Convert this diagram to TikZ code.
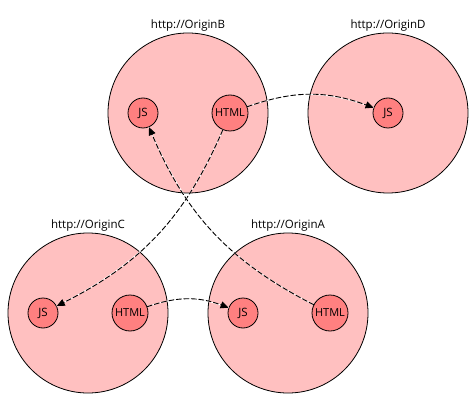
\documentclass[tikz,border=0pt]{standalone}
\usepackage{fontspec}
\setmainfont{Open Sans}
\usetikzlibrary{arrows.meta}

\definecolor{originfill}{RGB}{255,192,192}
\definecolor{scriptfill}{RGB}{255,128,128}

\begin{document}
\begin{tikzpicture}[
            x=1pt, y=1pt,
            line cap=round,
            origin circle/.style={circle, draw=black, line width=0.8pt, fill=originfill, minimum size=160pt, inner sep=0pt},
            origin label/.style={anchor=south, inner sep=1pt, font=\fontsize{11.5}{13}\selectfont},
            js dot/.style={circle, draw=black, line width=0.8pt, fill=scriptfill, minimum size=30pt, inner sep=0pt, font=\fontsize{11.5}{13}\selectfont},
            html dot/.style={circle, draw=black, line width=0.8pt, fill=scriptfill, minimum size=36pt, inner sep=0pt, font=\fontsize{11}{13}\selectfont},
            load arrow/.style={-{Triangle[length=8pt,width=7pt]}, line width=0.9pt, dash pattern=on 5pt off 2.5pt,
                preaction={draw=white, solid, line width=0.9pt, -}},
        ]
        \useasboundingbox (0,0) rectangle (473,-403);

        % The four origins.
        \node[origin circle] (originB) at (188,-113) {};
        \node[origin circle] (originD) at (388,-113) {};
        \node[origin circle] (originC) at (88,-313) {};
        \node[origin circle] (originA) at (288,-313) {};

        \node[origin label] (labB) at (originB.north) {http://OriginB};
        \node[origin label] (labD) at (originD.north) {http://OriginD};
        \node[origin label] (labC) at (originC.north) {http://OriginC};
        \node[origin label] (labA) at (originA.north) {http://OriginA};

        % Documents and scripts inside each origin.
        \node[js dot] (jsB) at (143,-113) {JS};
        \node[html dot] (htmlB) at (230,-113) {HTML};
        \node[js dot] (jsD) at (388,-113) {JS};
        \node[js dot] (jsC) at (43,-313) {JS};
        \node[html dot] (htmlC) at (130,-313) {HTML};
        \node[js dot] (jsA) at (243,-313) {JS};
        \node[html dot] (htmlA) at (330,-313) {HTML};

        % Script loads across origins.
        \draw[load arrow] (htmlB) to[bend left=20] (jsD);
        \draw[load arrow] (htmlB) to[bend left=20] (jsC);
        \draw[load arrow] (htmlC) to[bend left=20] (jsA);
        \draw[load arrow] (htmlA) to[bend left=20] (jsB);
        \end{tikzpicture}
\end{document}
